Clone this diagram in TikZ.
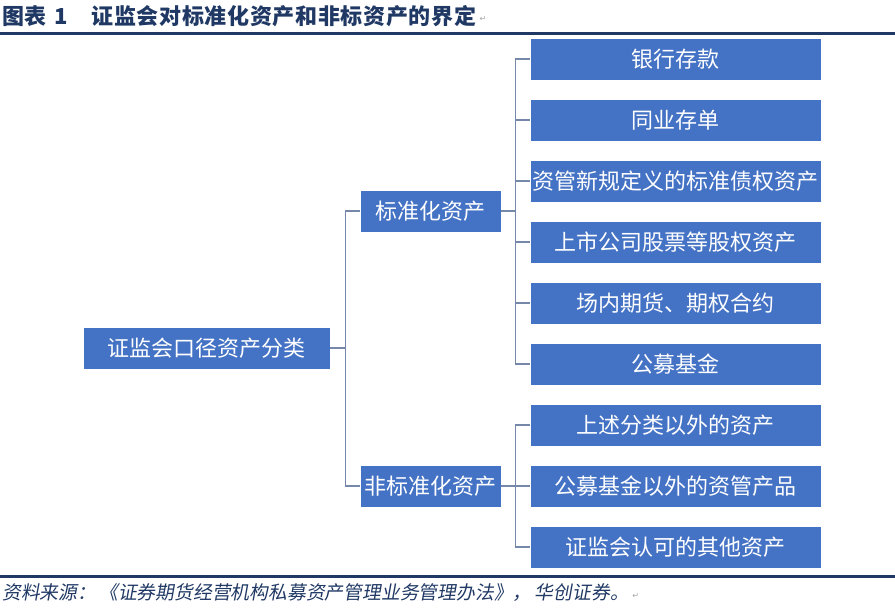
\documentclass[tikz,border=0pt]{standalone}
\usepackage{fontspec}
\newfontfamily\cjk{Noto Sans CJK SC}
\newfontfamily\cjkslant[FakeSlant=0.18]{Noto Sans CJK SC}
\newfontfamily\dejavu{DejaVu Sans}
\usetikzlibrary{calc}
\definecolor{boxblue}{RGB}{68,114,196}
\definecolor{navy}{RGB}{31,56,100}
\definecolor{connc}{RGB}{118,136,170}
\tikzset{
  box/.style={fill=boxblue, draw=white, line width=0.8pt, text=white, inner sep=0pt,
    minimum height=42pt, font=\cjk\fontsize{22}{22}\selectfont},
  leaf/.style={box, minimum width=291pt},
  mid/.style={box, minimum width=141pt},
  conn/.style={draw=connc, line width=1.4pt},
  rule/.style={draw=navy, line width=3pt},
}
\begin{document}
\begin{tikzpicture}[x=1pt,y=-1pt]
\useasboundingbox (0,0) rectangle (895,611);
% title
\node[anchor=west, inner sep=0pt, text=navy, font=\cjk\bfseries\fontsize{22}{22}\selectfont] (title) at (2,16) {图表\hspace{8pt}1\hspace{24pt}{\addfontfeature{LetterSpace=3}证监会对标准化资产和非标资产的界定}};
\node[anchor=west, inner sep=0pt, text=gray!70, font=\dejavu\fontsize{8}{8}\selectfont] (tmark) at ([xshift=3pt,yshift=-3pt]title.east) {↵};
\draw[rule] (0,33) -- (895,33);
\draw[rule] (0,576) -- (895,576);
% footer
\node[anchor=west, inner sep=0pt, text=navy, font=\cjkslant\fontsize{18.8}{18.8}\selectfont] (foot) at (2,593) {资料来源：\,《证券期货经营机构私募资产管理业务管理办法》，\,华创证券。};
\node[anchor=west, inner sep=0pt, text=gray!70, font=\dejavu\fontsize{8}{8}\selectfont] (fmark) at ([xshift=3pt,yshift=-3pt]foot.east) {↵};
% boxes
\node[box, minimum width=247pt] (root) at (206.5,348) {证监会口径资产分类};
\node[mid] (std) at (430.5,211) {标准化资产};
\node[mid] (nstd) at (430.5,486) {非标准化资产};
\node[leaf] (b1) at (675.5,59) {银行存款};
\node[leaf] (b2) at (675.5,120) {同业存单};
\node[leaf] (b3) at (675.5,181) {资管新规定义的标准债权资产};
\node[leaf] (b4) at (675.5,242) {上市公司股票等股权资产};
\node[leaf] (b5) at (675.5,303) {场内期货、期权合约};
\node[leaf] (b6) at (675.5,364) {公募基金};
\node[leaf] (b7) at (675.5,425) {上述分类以外的资产};
\node[leaf] (b8) at (675.5,486) {公募基金以外的资管产品};
\node[leaf] (b9) at (675.5,547) {证监会认可的其他资产};
% connectors
\coordinate (j1) at (345.5,348);
\coordinate (j2) at (515.5,211);
\coordinate (j3) at (515.5,486);
\draw[conn] (root.east) -- (j1);
\draw[conn] (std.west) -| (j1) |- (nstd.west);
\draw[conn] (std.east) -- (j2);
\draw[conn] (b1.west) -| (j2) |- (b6.west);
\draw[conn] (b2.west) -- (j2 |- b2.west);
\draw[conn] (b3.west) -- (j2 |- b3.west);
\draw[conn] (b4.west) -- (j2 |- b4.west);
\draw[conn] (b5.west) -- (j2 |- b5.west);
\draw[conn] (nstd.east) -- (b8.west);
\draw[conn] (b7.west) -| (j3) |- (b9.west);
\end{tikzpicture}
\end{document}
